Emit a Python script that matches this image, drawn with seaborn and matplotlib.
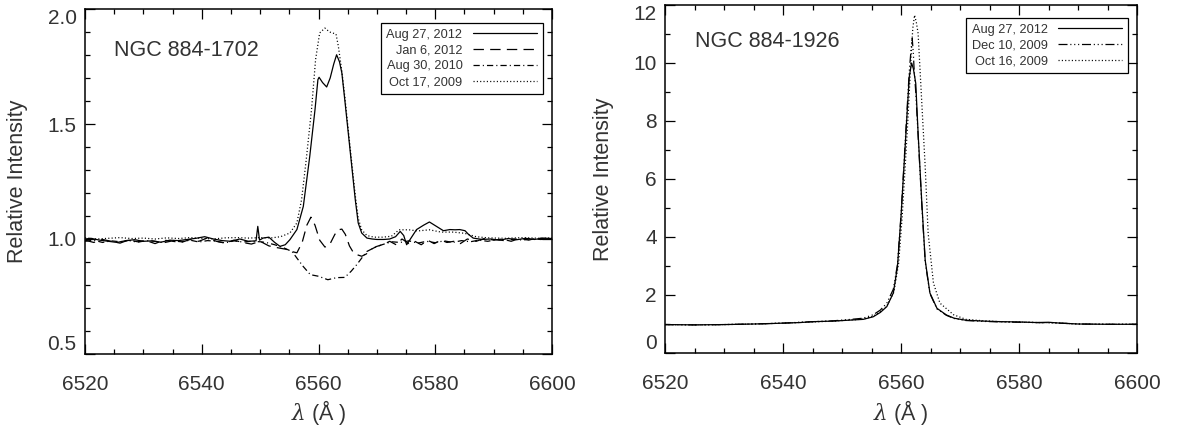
import numpy as np
import pandas as pd
import matplotlib
matplotlib.use("Agg")
import matplotlib.pyplot as plt
from matplotlib.ticker import MultipleLocator, FixedLocator
import seaborn as sns

# ---------------- data: NGC 884-1702 ----------------
wl_1702_aug12 = [6520, 6521, 6522.5, 6524, 6525.5, 6527, 6528.5, 6530, 6531.5, 6533, 6534.5, 6536,
                 6537.5, 6539, 6540.5, 6542, 6543.5, 6545, 6546.5, 6548, 6549.3, 6549.6, 6549.9, 6550.5,
                 6551.5, 6552.5, 6553.4, 6554.3, 6555.1, 6556.3, 6557.4, 6558.5, 6559.4, 6559.9, 6560.1,
                 6560.7, 6561.4, 6562.0, 6562.6, 6563.1, 6563.6, 6564.0, 6564.5, 6565.1, 6565.7, 6566.3,
                 6566.8, 6567.4, 6568.3, 6569.2, 6570.0, 6571.2, 6572.2, 6573.2, 6574.0, 6574.6, 6575.1,
                 6576.0, 6576.8, 6578.0, 6579.0, 6580.2, 6581.4, 6582.5, 6583.4, 6584.2, 6585.1, 6585.7,
                 6586.5, 6588, 6589.5, 6591, 6592.5, 6594, 6595.5, 6597, 6598.5, 6600]
in_1702_aug12 = [1.000, 1.003, 0.995, 0.990, 0.985, 0.993, 0.997, 0.990, 0.992, 0.986, 0.995, 0.993,
                 0.998, 1.003, 1.010, 1.000, 0.993, 0.990, 1.000, 0.990, 0.992, 1.055, 0.995, 1.004,
                 1.008, 0.985, 0.968, 0.975, 0.997, 1.041, 1.142, 1.359, 1.562, 1.693, 1.703,
                 1.680, 1.661, 1.700, 1.760, 1.801, 1.770, 1.722, 1.606, 1.461, 1.316, 1.171,
                 1.070, 1.026, 1.004, 1.000, 0.998, 0.998, 1.000, 1.010, 1.033, 1.015, 0.975,
                 1.010, 1.041, 1.060, 1.074, 1.055, 1.036, 1.041, 1.040, 1.041, 1.036, 1.020,
                 1.004, 0.998, 1.000, 0.995, 1.002, 0.997, 1.003, 0.998, 1.004, 1.002]

wl_1702_jan12 = [6520, 6521.5, 6523, 6524.5, 6526, 6527.5, 6529, 6530.5, 6532, 6533.5, 6535, 6536.5,
                 6538, 6539.5, 6541, 6542.5, 6544, 6545.5, 6547, 6548.5, 6550, 6551.5, 6553, 6554.5,
                 6555.5, 6556.3, 6557.2, 6558.0, 6558.7, 6559.4, 6560.2, 6561.1, 6561.9, 6562.8, 6563.4,
                 6564.0, 6564.6, 6565.3, 6566.0, 6566.8, 6567.4, 6568.2, 6569.0, 6570, 6571, 6572.2,
                 6573.3, 6574.3, 6575.5, 6576.5, 6577.6, 6578.7, 6579.8, 6581, 6582, 6583.2, 6584.3,
                 6585.5, 6587, 6588.5, 6590, 6591.5, 6593, 6594.5, 6596, 6597.5, 6599, 6600]
in_1702_jan12 = [0.995, 0.985, 0.998, 0.990, 0.982, 0.996, 0.988, 0.993, 0.980, 0.995, 0.990, 0.985,
                 0.998, 0.990, 1.005, 0.990, 0.982, 0.995, 0.985, 0.978, 0.990, 0.970, 0.962, 0.955,
                 0.945, 0.940, 0.985, 1.060, 1.095, 1.060, 0.995, 0.965, 0.975, 1.020, 1.040,
                 1.043, 1.020, 0.970, 0.940, 0.930, 0.925, 0.935, 0.955, 0.968, 0.975, 0.990,
                 0.975, 1.000, 0.980, 0.990, 0.975, 0.995, 0.980, 0.995, 0.985, 0.990, 0.980,
                 1.000, 0.990, 1.003, 0.995, 1.000, 0.990, 1.003, 0.995, 1.005, 1.000, 1.000]

wl_1702_aug10 = [6520, 6521.5, 6523, 6524.5, 6526, 6527.5, 6529, 6530.5, 6532, 6533.5, 6535, 6536.5,
                 6538, 6539.5, 6541, 6542.5, 6544, 6545.5, 6547, 6548.5, 6550, 6551, 6552.5, 6554,
                 6555.5, 6556.3, 6557.4, 6558.6, 6560.0, 6561.6, 6563.1, 6564.5, 6565.6, 6566.6, 6567.4,
                 6568.3, 6570, 6571.5, 6572.5, 6574, 6575.5, 6577, 6578.5, 6580, 6581.5, 6583, 6584.5,
                 6586, 6587.5, 6589, 6590.5, 6592, 6593.5, 6595, 6596.5, 6598, 6600]
in_1702_aug10 = [0.990, 0.995, 0.985, 0.992, 0.988, 0.994, 0.986, 0.993, 0.990, 0.984, 0.992, 0.988,
                 0.995, 0.987, 0.993, 0.990, 0.983, 0.992, 0.987, 0.990, 0.988, 0.985, 0.975, 0.962,
                 0.945, 0.917, 0.880, 0.845, 0.838, 0.823, 0.832, 0.833, 0.860, 0.890, 0.917,
                 0.946, 0.968, 0.980, 0.988, 0.985, 0.992, 0.982, 0.990, 0.984, 0.992, 0.985, 0.993,
                 0.988, 0.995, 0.990, 0.998, 0.992, 1.000, 0.995, 1.002, 0.998, 1.000]

wl_1702_oct09 = [6520, 6522, 6524, 6526, 6528, 6530, 6532, 6534, 6536, 6538, 6540, 6542, 6544, 6546,
                 6548, 6550, 6552, 6553.5, 6555.1, 6556.3, 6557.1, 6557.9, 6558.8, 6559.5, 6560.2,
                 6561.1, 6561.9, 6563.0, 6563.4, 6564.0, 6564.5, 6565.1, 6565.7, 6566.3, 6566.8,
                 6567.4, 6568.3, 6569.5, 6571, 6572.5, 6573.8, 6575.5, 6577, 6579, 6581, 6583, 6585,
                 6587, 6589, 6592, 6595, 6598, 6600]
in_1702_oct09 = [1.005, 1.000, 1.003, 1.006, 1.002, 1.004, 1.000, 1.005, 1.002, 1.006, 1.003, 1.000,
                 1.005, 1.006, 1.004, 1.006, 1.005, 1.010, 1.026, 1.070, 1.171, 1.345, 1.562, 1.780,
                 1.896, 1.917, 1.900, 1.891, 1.838, 1.729, 1.620, 1.475, 1.330, 1.190, 1.090,
                 1.040, 1.015, 1.008, 1.008, 1.012, 1.040, 1.040, 1.035, 1.040, 1.030, 1.030, 1.025,
                 1.010, 1.005, 1.003, 1.006, 1.003, 1.005]

# ---------------- data: NGC 884-1926 ----------------
wl_1926_aug12 = [6520, 6525, 6530, 6535, 6537.2, 6540, 6542.9, 6545, 6548.5, 6551, 6553.6, 6555.3,
                 6556.5, 6557.6, 6558.7, 6559.4, 6560.0, 6560.5, 6561.0, 6561.4, 6561.8, 6562.1,
                 6562.5, 6562.9, 6563.5, 6564.1, 6564.9, 6566.1, 6567.7, 6569, 6571, 6574, 6577,
                 6580, 6583, 6585, 6587, 6590, 6595, 6600]
in_1926_aug12 = [0.98, 0.97, 0.98, 1.00, 1.01, 1.03, 1.05, 1.08, 1.10, 1.13, 1.16, 1.25,
                 1.40, 1.60, 2.07, 2.98, 4.70, 6.42, 8.15, 9.53, 10.00, 9.80,
                 9.30, 7.58, 5.28, 3.20, 2.07, 1.54, 1.31, 1.20, 1.13, 1.10, 1.08,
                 1.07, 1.05, 1.06, 1.03, 1.00, 0.99, 0.99]

wl_1926_dec09 = [6520, 6525, 6530, 6535, 6540, 6545, 6548.5, 6551, 6553.6, 6555.3, 6556.5, 6557.6,
                 6558.7, 6559.4, 6560.0, 6560.5, 6561.0, 6561.4, 6561.7, 6561.9, 6562.1, 6562.2,
                 6562.5, 6562.9, 6563.5, 6564.1, 6564.9, 6566.1, 6567.7, 6569, 6571, 6574, 6577,
                 6580, 6583, 6586, 6590, 6595, 6600]
in_1926_dec09 = [0.98, 0.97, 0.98, 1.00, 1.03, 1.08, 1.11, 1.15, 1.20, 1.32, 1.48, 1.72,
                 2.20, 3.05, 4.75, 6.50, 8.30, 9.70, 10.45, 10.85, 10.30, 9.87,
                 9.00, 7.50, 5.20, 3.15, 2.05, 1.52, 1.30, 1.19, 1.12, 1.09, 1.07,
                 1.06, 1.05, 1.04, 1.00, 0.99, 0.99]

wl_1926_oct09 = [6520, 6525, 6530, 6535, 6540, 6545, 6548.5, 6551, 6553.6, 6555.3, 6556.5, 6557.6,
                 6558.8, 6559.6, 6560.2, 6560.7, 6561.2, 6561.7, 6562.0, 6562.3, 6562.6, 6562.9,
                 6563.5, 6564.1, 6564.6, 6565.5, 6566.6, 6568.9, 6571, 6574, 6577, 6580, 6583,
                 6586, 6590, 6595, 6600]
in_1926_oct09 = [0.98, 0.97, 0.98, 1.00, 1.03, 1.07, 1.10, 1.13, 1.17, 1.27, 1.42, 1.62,
                 2.10, 3.10, 4.70, 6.40, 8.15, 10.20, 11.20, 11.65, 11.40, 11.02,
                 8.72, 6.42, 4.13, 2.41, 1.72, 1.32, 1.16, 1.11, 1.08, 1.07, 1.05,
                 1.04, 1.00, 0.99, 0.99]

labels_1702 = ["Aug 27, 2012", "Jan 6, 2012", "Aug 30, 2010", "Oct 17, 2009"]
labels_1926 = ["Aug 27, 2012", "Dec 10, 2009", "Oct 16, 2009"]
x_ticks = [6520, 6540, 6560, 6580, 6600]
y_ticks_1702 = [0.5, 1.0, 1.5, 2.0]
y_ticklabels_1702 = ["0.5", "1.0", "1.5", "2.0"]
y_ticks_1926 = [0, 2, 4, 6, 8, 10, 12]

# ---------------- style ----------------
sns.set_style("white")
plt.rcParams['font.family'] = ['Liberation Sans', 'DejaVu Sans']
plt.rcParams['mathtext.fontset'] = 'dejavuserif'
plt.rcParams['lines.scale_dashes'] = False
TXT = '#333333'

ls_solid = '-'
ls_dash = (0, (7.5, 4.5))
ls_dashdot = (0, (4.5, 2.2, 0.8, 2.2))
ls_dash3dot = (0, (6.5, 2.0, 0.8, 2.0, 0.8, 2.0, 0.8, 2.0))
ls_dot = (0, (0.8, 1.6))

fig = plt.figure(figsize=(11.78, 4.30), dpi=100)
ax1 = fig.add_axes([85/1178, 1-354/430, 467/1178, 345/430])
ax2 = fig.add_axes([665/1178, 1-353/430, 472/1178, 348/430])

lw = 0.9
series1 = [(wl_1702_aug12, in_1702_aug12, ls_solid),
           (wl_1702_jan12, in_1702_jan12, ls_dash),
           (wl_1702_aug10, in_1702_aug10, ls_dashdot),
           (wl_1702_oct09, in_1702_oct09, ls_dot)]
for (w, v, ls), lab in zip(series1, labels_1702):
    sns.lineplot(x=w, y=v, ax=ax1, color='k', linestyle=ls, linewidth=lw,
                 estimator=None, label=lab)

series2 = [(wl_1926_aug12, in_1926_aug12, ls_solid),
           (wl_1926_dec09, in_1926_dec09, ls_dash3dot),
           (wl_1926_oct09, in_1926_oct09, ls_dot)]
for (w, v, ls), lab in zip(series2, labels_1926):
    sns.lineplot(x=w, y=v, ax=ax2, color='k', linestyle=ls, linewidth=lw,
                 estimator=None, label=lab)

ax1.set_xlim(6520, 6600)
ax1.set_ylim(0.5, 2.0)
ax1.set_yticks(y_ticks_1702)
ax1.set_yticklabels(y_ticklabels_1702)
ax1.yaxis.set_minor_locator(MultipleLocator(0.1))

ax2.set_xlim(6520, 6600)
ax2.set_ylim(0, 12)
ax2.set_yticks(y_ticks_1926)
ax2.set_yticklabels([str(v) for v in y_ticks_1926])
ax2.yaxis.set_minor_locator(MultipleLocator(1))

for ax, ttl, tx, ty, lx, ly, ylx in [(ax1, "NGC 884-1702", 0.062, 0.881, 0.9807, 0.9594, -0.1456),
                                     (ax2, "NGC 884-1926", 0.064, 0.895, 0.981, 0.9626, -0.131)]:
    ax.set_xticks(x_ticks)
    ax.set_xticklabels([str(v) for v in x_ticks])
    ax.xaxis.set_minor_locator(MultipleLocator(5))
    ax.tick_params(which='both', direction='in', top=True, right=True, left=True, bottom=True,
                   colors='k', labelcolor=TXT, width=0.9)
    ax.tick_params(which='major', length=7)
    ax.tick_params(which='minor', length=3.5)
    ax.tick_params(axis='x', which='major', pad=15, labelsize=15)
    ax.tick_params(axis='y', which='major', pad=6, labelsize=15)
    for s in ax.spines.values():
        s.set_color('k')
        s.set_linewidth(1.1)
    ax.set_xlabel(r'$\lambda$ (Å )', fontsize=15.5, color=TXT, va='center')
    ax.xaxis.set_label_coords(0.5, -0.171)
    ax.set_ylabel('Relative Intensity', fontsize=15.5, color=TXT, va='center')
    ax.yaxis.set_label_coords(ylx, 0.5)
    ax.text(tx, ty, ttl, transform=ax.transAxes, fontsize=15.5, color=TXT,
            ha='left', va='center')
    leg = ax.legend(loc='upper right', bbox_to_anchor=(lx, ly), borderaxespad=0,
                    markerfirst=False, fontsize=9.2, handlelength=5.0, handletextpad=0.85,
                    labelspacing=0.3, borderpad=0.45, fancybox=False, frameon=True,
                    framealpha=1, edgecolor='k')
    leg.get_frame().set_linewidth(0.9)
    for t in leg.get_texts():
        t.set_color(TXT)
    # keep end labels inside the frame height, as in the reference
    ylabs = ax.get_yticklabels()
    ylabs[0].set_va('bottom')
    ylabs[-1].set_va('top')

fig.savefig("out.png", dpi=100, facecolor='white')
